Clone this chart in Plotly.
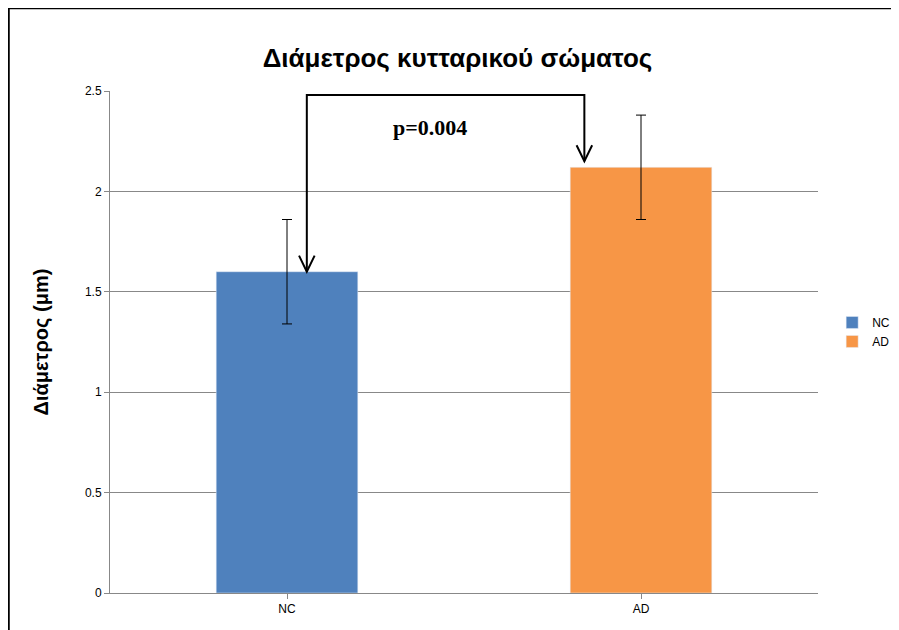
import plotly.graph_objects as go

groups = ["NC", "AD"]
means = [1.60, 2.12]
errors = [0.26, 0.26]
colors = ["#4F81BD", "#F79646"]
p_label = "p=0.004"

fig = go.Figure()
for g, m, e, c in zip(groups, means, errors, colors):
    fig.add_trace(go.Bar(
        x=[g], y=[m], name=g, marker_color=c, width=0.4,
        error_y=dict(type="data", array=[e], color="black", thickness=1, width=5),
    ))

# bracket with arrows (x in category index units)
xl, xr, ytop = 0.056, 0.84, 2.48
line = dict(color="black", width=2)
fig.add_shape(type="path", path=f"M {xl} {means[0]} L {xl} {ytop} L {xr} {ytop} L {xr} {means[1] + 0.03}",
              line=line, xref="x", yref="y")
for x, y in [(xl, means[0]), (xr, means[1] + 0.03)]:
    fig.add_shape(type="path", path=f"M {x-0.022} {y+0.08} L {x} {y} L {x+0.022} {y+0.08}",
                  line=line, xref="x", yref="y")
fig.add_annotation(x=0.405, y=2.32, xref="x", yref="y", text=f"<b>{p_label}</b>", showarrow=False,
                   font=dict(family="Liberation Serif", size=22, color="black"))

fig.update_layout(
    width=899, height=630,
    paper_bgcolor="white", plot_bgcolor="white",
    margin=dict(l=102, r=84, t=83, b=45),
    title=dict(text="<b>Διάμετρος κυτταρικού σώματος</b>", x=0.5, xanchor="center", y=0.935,
               font=dict(family="Liberation Sans", size=26, color="black")),
    font=dict(family="Liberation Sans", size=12, color="black"),
    bargap=0.6, showlegend=True,
    legend=dict(x=1.02, y=0.52, yanchor="middle", font=dict(size=12), itemwidth=30),
)
fig.update_xaxes(showline=True, linecolor="#888", ticks="outside", tickcolor="#888", ticklen=5, range=[-0.5, 1.5])
fig.update_yaxes(range=[0, 2.5], dtick=0.5, showgrid=True, gridcolor="#888", gridwidth=1,
                 showline=True, linecolor="#888", ticks="outside", tickcolor="#888", ticklen=5,
                 title=dict(text="<b>Διάμετρος (μm)</b>", font=dict(size=20), standoff=30))
fig.add_shape(type="rect", xref="paper", yref="paper", x0=-0.143, x1=1.118, y0=-0.089, y1=1.165,
              line=dict(color="black", width=2))
fig.write_html("out.html")
